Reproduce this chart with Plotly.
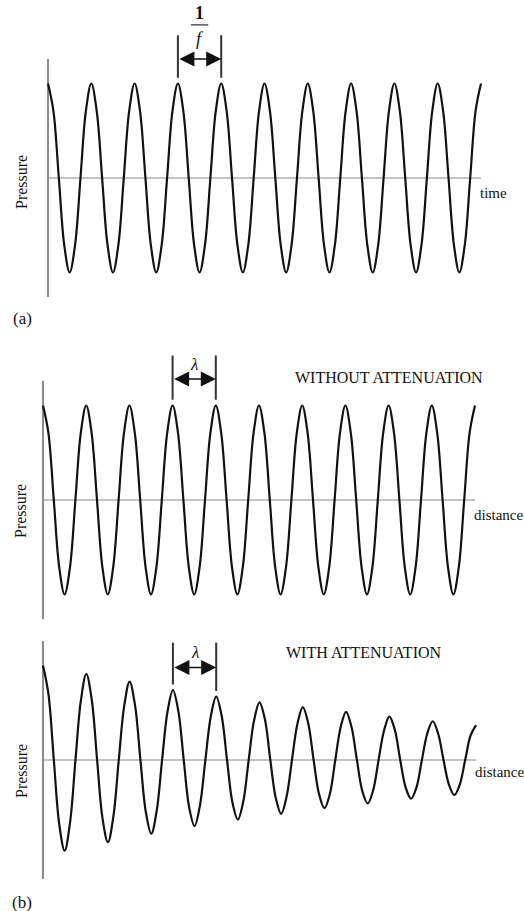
import plotly.graph_objects as go

W, H = 524, 911
FONT = "Liberation Serif"

# ---- data ----
# position along the wave in cycles (eighth-period samples)
phase = [0, 0.125, 0.25, 0.375, 0.5, 0.625, 0.75, 0.875,
         1, 1.125, 1.25, 1.375, 1.5, 1.625, 1.75, 1.875,
         2, 2.125, 2.25, 2.375, 2.5, 2.625, 2.75, 2.875,
         3, 3.125, 3.25, 3.375, 3.5, 3.625, 3.75, 3.875,
         4, 4.125, 4.25, 4.375, 4.5, 4.625, 4.75, 4.875,
         5, 5.125, 5.25, 5.375, 5.5, 5.625, 5.75, 5.875,
         6, 6.125, 6.25, 6.375, 6.5, 6.625, 6.75, 6.875,
         7, 7.125, 7.25, 7.375, 7.5, 7.625, 7.75, 7.875,
         8, 8.125, 8.25, 8.375, 8.5, 8.625, 8.75, 8.875,
         9, 9.125, 9.25, 9.375, 9.5, 9.625, 9.75, 9.875,
         10]

# (a) pressure vs time
pressure_time = [1, 0.71, 0, -0.71, -1, -0.71, 0, 0.71,
                 1, 0.71, 0, -0.71, -1, -0.71, 0, 0.71,
                 1, 0.71, 0, -0.71, -1, -0.71, 0, 0.71,
                 1, 0.71, 0, -0.71, -1, -0.71, 0, 0.71,
                 1, 0.71, 0, -0.71, -1, -0.71, 0, 0.71,
                 1, 0.71, 0, -0.71, -1, -0.71, 0, 0.71,
                 1, 0.71, 0, -0.71, -1, -0.71, 0, 0.71,
                 1, 0.71, 0, -0.71, -1, -0.71, 0, 0.71,
                 1, 0.71, 0, -0.71, -1, -0.71, 0, 0.71,
                 1, 0.71, 0, -0.71, -1, -0.71, 0, 0.71,
                 1]

# (b) pressure vs distance, without attenuation
pressure_no_att = [1, 0.71, 0, -0.71, -1, -0.71, 0, 0.71,
                   1, 0.71, 0, -0.71, -1, -0.71, 0, 0.71,
                   1, 0.71, 0, -0.71, -1, -0.71, 0, 0.71,
                   1, 0.71, 0, -0.71, -1, -0.71, 0, 0.71,
                   1, 0.71, 0, -0.71, -1, -0.71, 0, 0.71,
                   1, 0.71, 0, -0.71, -1, -0.71, 0, 0.71,
                   1, 0.71, 0, -0.71, -1, -0.71, 0, 0.71,
                   1, 0.71, 0, -0.71, -1, -0.71, 0, 0.71,
                   1, 0.71, 0, -0.71, -1, -0.71, 0, 0.71,
                   1, 0.71, 0, -0.71, -1, -0.71, 0, 0.71,
                   1]

# (b) pressure vs distance, with attenuation
pressure_att = [1.00, 0.70, 0, -0.68, -0.96, -0.66, 0, 0.63,
                0.91, 0.64, 0, -0.62, -0.87, -0.60, 0, 0.57,
                0.83, 0.58, 0, -0.55, -0.78, -0.54, 0, 0.51,
                0.74, 0.52, 0, -0.50, -0.70, -0.48, 0, 0.46,
                0.67, 0.47, 0, -0.45, -0.63, -0.44, 0, 0.42,
                0.61, 0.43, 0, -0.40, -0.57, -0.39, 0, 0.38,
                0.56, 0.39, 0, -0.36, -0.51, -0.36, 0, 0.35,
                0.51, 0.35, 0, -0.33, -0.46, -0.32, 0, 0.31,
                0.46, 0.32, 0, -0.29, -0.41, -0.29, 0, 0.28,
                0.41, 0.28, 0, -0.26, -0.37, -0.26, 0, 0.26,
                0.37]

axis_labels = ["time", "distance", "distance"]
panel_titles = [None, "WITHOUT ATTENUATION", "WITH ATTENUATION"]
marker_cycles = [3, 4]          # peaks between which the period is marked

# ---- layout geometry (pixels) ----
panels = [
    dict(x0=48, xu=43.3, y0=178, yu=94.5, xr=[-0.3, 10.3], yr=[-1.35, 1.85]),
    dict(x0=43, xu=43.2, y0=500, yu=94.5, xr=[-0.3, 10.3], yr=[-1.35, 1.60]),
    dict(x0=43, xu=43.3, y0=760, yu=94.5, xr=[-0.3, 10.3], yr=[-1.32, 1.30]),
]
series = [pressure_time, pressure_no_att, pressure_att]


def px(x):
    return x / W


def py(y):
    return 1 - y / H


fig = go.Figure()
shapes, annotations = [], []
layout_axes = {}

for i, (p, vals) in enumerate(zip(panels, series)):
    n = "" if i == 0 else str(i + 1)
    xa, ya = "x" + n, "y" + n
    xdom = [px(p["x0"] + p["xr"][0] * p["xu"]), px(p["x0"] + p["xr"][1] * p["xu"])]
    ydom = [py(p["y0"] - p["yr"][0] * p["yu"]), py(p["y0"] - p["yr"][1] * p["yu"])]
    layout_axes["xaxis" + n] = dict(domain=xdom, range=p["xr"], visible=False,
                                    fixedrange=True, anchor=ya)
    layout_axes["yaxis" + n] = dict(domain=ydom, range=p["yr"], visible=False,
                                    fixedrange=True, anchor=xa)

    fig.add_trace(go.Scatter(x=phase, y=vals, mode="lines",
                             line=dict(color="#111", width=2.2, shape="spline",
                                       smoothing=1.0),
                             xaxis=xa, yaxis=ya, showlegend=False,
                             hoverinfo="skip"))

    # vertical pressure axis and horizontal zero line
    shapes.append(dict(type="line", xref=xa, yref=ya, x0=phase[0], x1=phase[0],
                       y0=-1.26, y1=1.26, layer="below",
                       line=dict(color="#666", width=1.5)))
    shapes.append(dict(type="line", xref=xa, yref=ya, x0=phase[0], x1=phase[-1],
                       y0=0, y1=0, layer="below",
                       line=dict(color="#888", width=1)))

    # period marker lines
    i1 = phase.index(marker_cycles[0])
    i2 = phase.index(marker_cycles[1])
    top = [1.51, 1.53, 1.24][i]
    arr_y = [1.26, 1.28, 0.98][i]
    for idx in (i1, i2):
        shapes.append(dict(type="line", xref=xa, yref=ya,
                           x0=phase[idx], x1=phase[idx],
                           y0=vals[idx] + 0.06, y1=top,
                           line=dict(color="#333", width=2)))
    annotations.append(dict(xref=xa, yref=ya, axref=xa, ayref=ya,
                            x=phase[i2], y=arr_y, ax=phase[i1], ay=arr_y,
                            text="", showarrow=True, arrowside="end+start",
                            arrowhead=2, startarrowhead=2, arrowsize=2.0,
                            startarrowsize=2.0, arrowwidth=1.5,
                            arrowcolor="#111", standoff=0, startstandoff=0))
    mid = (phase[i1] + phase[i2]) / 2
    if i == 0:
        annotations.append(dict(xref=xa, yref=ya, x=mid, y=1.75, text="<b>1</b>",
                                showarrow=False,
                                font=dict(family=FONT, size=18, color="#111")))
        shapes.append(dict(type="line", xref=xa, yref=ya, x0=mid - 0.2,
                           x1=mid + 0.2, y0=1.62, y1=1.62,
                           line=dict(color="#333", width=1.2)))
        annotations.append(dict(xref=xa, yref=ya, x=mid, y=1.47, text="<i>f</i>",
                                showarrow=False,
                                font=dict(family=FONT, size=18, color="#111")))
    else:
        annotations.append(dict(xref=xa, yref=ya, x=mid,
                                y=[None, 1.43, 1.14][i], text="<i>λ</i>",
                                showarrow=False,
                                font=dict(family=FONT, size=17, color="#111")))

    # x label at end of zero line
    annotations.append(dict(xref=xa, yref=ya, x=phase[-1] - 0.08,
                            y=[-0.16, -0.16, -0.13][i],
                            xanchor="left", yanchor="middle",
                            text=axis_labels[i], showarrow=False,
                            font=dict(family=FONT, size=15, color="#111")))
    # titles
    if panel_titles[i]:
        annotations.append(dict(xref=xa, yref=ya, x=[None, 8.01, 7.41][i],
                                y=[None, 1.30, 1.14][i], text=panel_titles[i],
                                xanchor="center", yanchor="middle",
                                showarrow=False,
                                font=dict(family=FONT, size=16, color="#111")))

# Pressure labels and panel letters
for (x, y) in [(22, 182), (20, 511), (21, 771)]:
    annotations.append(dict(xref="paper", yref="paper", x=px(x), y=py(y),
                            xanchor="center", yanchor="middle",
                            text="Pressure", textangle=-90, showarrow=False,
                            font=dict(family=FONT, size=16, color="#111")))
for (x, y, t) in [(22, 318, "(a)"), (22, 902, "(b)")]:
    annotations.append(dict(xref="paper", yref="paper", x=px(x), y=py(y),
                            xanchor="center", yanchor="middle",
                            text=t, showarrow=False,
                            font=dict(family=FONT, size=17, color="#111")))

fig.update_layout(width=W, height=H, margin=dict(l=0, r=0, t=0, b=0),
                  paper_bgcolor="white", plot_bgcolor="white",
                  shapes=shapes, annotations=annotations, **layout_axes)

fig.write_html("out.html", config={"displayModeBar": False})
